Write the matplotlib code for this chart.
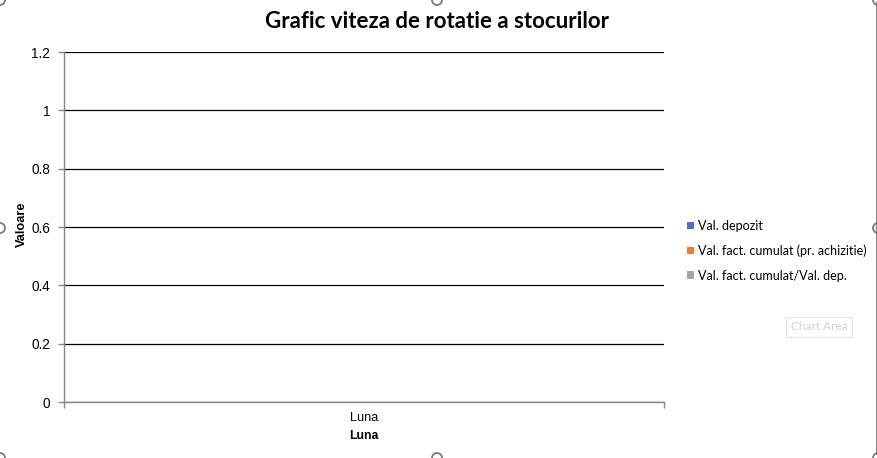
import matplotlib
matplotlib.use("Agg")
import matplotlib.pyplot as plt
import numpy as np
from matplotlib.patches import Patch, Circle
from matplotlib.lines import Line2D
from matplotlib.ticker import FixedLocator

# ---- data ----
categories = ["Luna"]
series_names = ["Val. depozit",
                "Val. fact. cumulat (pr. achizitie)",
                "Val. fact. cumulat/Val. dep."]
series_colors = ["#4472C4", "#ED7D31", "#A5A5A5"]
val_depozit = [0.0]
val_fact_cumulat = [0.0]
val_raport = [0.0]
y_ticks = [0, 0.2, 0.4, 0.6, 0.8, 1, 1.2]
y_tick_labels = ["0", "0.2", "0.4", "0.6", "0.8", "1", "1.2"]
title = "Grafic viteza de rotatie a stocurilor"
x_title = "Luna"
y_title = "Valoare"

W, H = 878, 458
fig = plt.figure(figsize=(W / 100, H / 100), dpi=100)
fig.patch.set_facecolor("white")

ax = fig.add_axes([64 / W, 1 - 402 / H, 600 / W, 350 / H])
x = np.arange(len(categories))
width = 0.2
all_series = [val_depozit, val_fact_cumulat, val_raport]
handles = []
for i, (vals, name, col) in enumerate(zip(all_series, series_names, series_colors)):
    ax.bar(x + (i - 1) * width, vals, width=width, color=col, linewidth=0)
    handles.append(Patch(facecolor=col, edgecolor="none", label=name))

ax.set_xlim(-0.5, len(categories) - 0.5)
ax.set_ylim(0, 1.2)
ax.set_yticks(y_ticks)
ax.set_yticklabels(y_tick_labels, fontfamily="Liberation Sans", fontsize=9.8)
ax.set_xticks(x)
ax.set_xticklabels(categories, fontfamily="Liberation Sans", fontsize=9.2)
ax.xaxis.set_minor_locator(FixedLocator([-0.5, len(categories) - 0.5]))
ax.tick_params(axis="x", which="major", length=0, pad=7.5)
ax.tick_params(axis="x", which="minor", length=4, color="#868686", width=1)
ax.tick_params(axis="y", which="major", length=4, color="#868686", width=1, pad=6)
ax.yaxis.grid(True, color="black", linewidth=0.9)
ax.set_axisbelow(True)
for s in ["top", "right"]:
    ax.spines[s].set_visible(False)
for s in ["left", "bottom"]:
    ax.spines[s].set_color("#868686")
    ax.spines[s].set_linewidth(1)

fig.text(437 / W, 1 - 22 / H, title, ha="center", va="center",
         fontfamily="Lato", fontweight="bold", fontsize=16)
fig.text(364 / W, 1 - 436 / H, x_title, ha="center", va="center",
         fontfamily="Liberation Sans", fontweight="bold", fontsize=8.8)
fig.text(22 / W, 1 - 224 / H, y_title, ha="center", va="center", rotation=90,
         fontfamily="Liberation Sans", fontweight="bold", fontsize=9.2)

leg = fig.legend(handles=handles, loc="upper left",
                 bbox_to_anchor=(682 / W, 1 - 215 / H),
                 frameon=False, prop={"family": "Lato", "size": 9},
                 handlelength=0.55, handleheight=0.55, handletextpad=0.3,
                 labelspacing=1.0, borderaxespad=0)

# "Chart Area" tooltip
fig.text(819 / W, 1 - 327 / H, "Chart Area", ha="center", va="center",
         fontfamily="Lato", fontsize=8.5, color="#d0d0d0",
         bbox=dict(boxstyle="square,pad=0.4", facecolor="white",
                   edgecolor="#e4e4e4", linewidth=0.8))

# chart frame (right edge)
fig.add_artist(Line2D([877 / W, 877 / W], [4 / H, 1 - 2 / H],
                      transform=fig.transFigure, color="#6e6e6e", linewidth=1.2))

# selection handles
for (px, py) in [(0, 0), (437, 0), (878, 0), (0, 228), (878, 228),
                 (0, 458), (437, 458), (878, 458)]:
    fig.add_artist(Circle((px, H - py), 5, transform=None,
                          facecolor="white", edgecolor="#7a7a7a", linewidth=1.3))

fig.savefig("out.png", dpi=100)
